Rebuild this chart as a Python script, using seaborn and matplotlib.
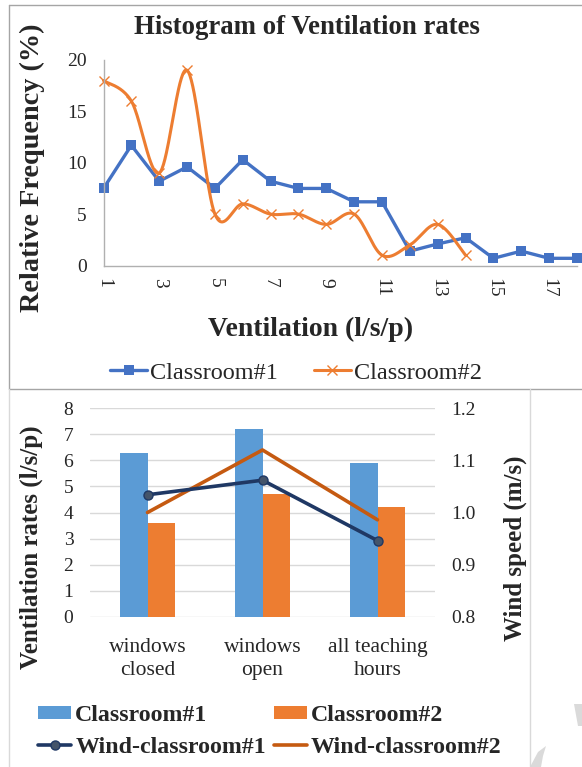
import numpy as np
import pandas as pd
import matplotlib
matplotlib.use("Agg")
import matplotlib.pyplot as plt
from matplotlib.lines import Line2D
from matplotlib.patches import Patch, Polygon
import seaborn as sns

# ---------------- data ----------------
vent_bins = list(range(1, 19))
room1_freq = [7.5, 11.7, 8.2, 9.6, 7.5, 10.3, 8.2, 7.5, 7.5, 6.2, 6.2,
              1.4, 2.1, 2.7, 0.7, 1.4, 0.7, 0.7]
room2_bins = list(range(1, 15))
room2_freq = [18, 16, 9, 19, 5, 6, 5, 5, 4, 5, 1, 2, 4, 1]
x_ticks = [1, 3, 5, 7, 9, 11, 13, 15, 17]
freq_ticks = [0, 5, 10, 15, 20]

conditions = ["windows\nclosed", "windows\nopen", "all teaching\nhours"]
vent_room1 = [6.3, 7.2, 5.9]
vent_room2 = [3.6, 4.7, 4.2]
wind_room1 = [1.034, 1.062, 0.946]
wind_room2 = [1.0, 1.12, 0.986]
rate_ticks = [0, 1, 2, 3, 4, 5, 6, 7, 8]
wind_ticks = [0.8, 0.9, 1.0, 1.1, 1.2]

# ---------------- style ----------------
sns.set_style("white")
plt.rcParams["font.family"] = ["Liberation Serif", "DejaVu Serif"]
plt.rcParams["axes.unicode_minus"] = False

W, H = 582, 767
fig = plt.figure(figsize=(W / 100, H / 100), dpi=100)


def fx(px):
    return px / W


def fy(py):
    return 1 - py / H


def smooth_curve(x, y, n=40):
    """Cubic Bezier smoothing through every point (spreadsheet style)."""
    x = np.asarray(x, float)
    y = np.asarray(y, float)
    px = np.r_[x[0], x, x[-1]]
    py = np.r_[y[0], y, y[-1]]
    t = np.linspace(0, 1, n)
    xs, ys = [], []
    for i in range(len(x) - 1):
        p0 = np.array([x[i], y[i]])
        p3 = np.array([x[i + 1], y[i + 1]])
        c1 = p0 + (np.array([px[i + 2], py[i + 2]]) - np.array([px[i], py[i]])) / 6
        c2 = p3 - (np.array([px[i + 3], py[i + 3]]) - np.array([px[i + 1], py[i + 1]])) / 6
        seg = ((1 - t) ** 3)[:, None] * p0 + (3 * (1 - t) ** 2 * t)[:, None] * c1 \
            + (3 * (1 - t) * t ** 2)[:, None] * c2 + (t ** 3)[:, None] * p3
        xs.append(seg[:, 0] if i == 0 else seg[1:, 0])
        ys.append(seg[:, 1] if i == 0 else seg[1:, 1])
    return np.concatenate(xs), np.concatenate(ys)


# ---------------- panel frames ----------------
frame_dark = "#A5A5A5"
frame_light = "#D9D9D9"
for (x0, y0, x1, y1, c) in [
    (9, 5, 582, 5, frame_dark),
    (9, 5, 9, 389, frame_dark),
    (9, 389, 582, 389, frame_dark),
    (8.5, 389, 8.5, 767, frame_light),
    (529.5, 389, 529.5, 767, frame_light),
]:
    fig.add_artist(Line2D([fx(x0), fx(x1)], [fy(y0), fy(y1)],
                          color=c, lw=1.0, transform=fig.transFigure))

# faint page marks at the lower right corner
for pts in [
    [(574, 704), (582, 704), (582, 726), (578, 726)],
    [(546, 746), (538, 752), (530, 767), (541, 767), (543, 756)],
]:
    fig.add_artist(Polygon([(fx(a), fy(b)) for a, b in pts], closed=True,
                           facecolor="#DADADA", edgecolor="none",
                           transform=fig.transFigure))

# ---------------- top: histogram lines ----------------
blue = "#4472C4"
orange = "#ED7D31"
ax1 = fig.add_axes([fx(103.5), fy(265.5), fx(577) - fx(103.5), fy(60) - fy(265.5)])
sns.lineplot(x=vent_bins, y=room1_freq, ax=ax1, color=blue, lw=2.4,
             marker="s", markersize=7.5, markeredgewidth=0, clip_on=False)
sx, sy = smooth_curve(room2_bins, room2_freq)
sns.lineplot(x=sx, y=sy, ax=ax1, color=orange, lw=2.2, sort=False, clip_on=False)
ax1.plot(room2_bins, room2_freq, ls="none", marker="x", markersize=7.5,
         markeredgewidth=1.0, color=orange, clip_on=False)

ax1.set_xlim(1, 18)
ax1.set_ylim(0, 20)
ax1.set_xticks(x_ticks)
ax1.set_xticklabels([str(v) for v in x_ticks], rotation=-90, fontsize=14)
ax1.set_yticks(freq_ticks)
ax1.set_yticklabels([str(v) for v in freq_ticks], fontsize=14)
ax1.tick_params(axis="x", length=5, width=1, color="#B0B0B0", pad=4)
ax1.tick_params(axis="y", length=5, width=1, color="#B0B0B0", pad=7)
for s in ["top", "right"]:
    ax1.spines[s].set_visible(False)
for s in ["left", "bottom"]:
    ax1.spines[s].set_color("#B0B0B0")
    ax1.spines[s].set_linewidth(1.0)
ax1.set_xlabel("")
ax1.set_ylabel("")

fig.text(fx(307), fy(27), "Histogram of Ventilation rates", ha="center",
         va="center", fontsize=19.3, fontweight="bold")
fig.text(fx(32), fy(168), "Relative Frequency (%)", ha="center", va="center",
         rotation=90, fontsize=20.3, fontweight="bold")
fig.text(fx(311), fy(329), "Ventilation (l/s/p)", ha="center", va="center",
         fontsize=20, fontweight="bold")

top_handles = [
    Line2D([], [], color=blue, lw=2.4, marker="s", markersize=7.5, markeredgewidth=0),
    Line2D([], [], color=orange, lw=2.2, marker="x", markersize=7.5, markeredgewidth=1.0),
]
fig.legend(top_handles, ["Classroom#1", "Classroom#2"], loc="center",
           bbox_to_anchor=(fx(296), fy(373)), ncol=2, frameon=False,
           fontsize=17.5, handlelength=1.5, handletextpad=0.12,
           columnspacing=1.5, borderpad=0, borderaxespad=0)

# ---------------- bottom: bars with wind speed ----------------
bar_blue = "#5B9BD5"
bar_orange = "#ED7D31"
navy = "#1F3864"
rust = "#C55A11"

df = pd.DataFrame({
    "condition": conditions * 2,
    "rate": vent_room1 + vent_room2,
    "room": ["Classroom#1"] * 3 + ["Classroom#2"] * 3,
})

ax2 = fig.add_axes([fx(90), fy(616.7), fx(435) - fx(90), fy(408.3) - fy(616.7)])
sns.barplot(data=df, x="condition", y="rate", hue="room", ax=ax2,
            palette=[bar_blue, bar_orange], width=0.48, gap=0, saturation=1,
            linewidth=0, legend=False, zorder=2)
ax2.set_ylim(0, 8)
ax2.set_xlim(-0.5, 2.5)
ax2.set_yticks(rate_ticks)
ax2.set_yticklabels([str(v) for v in rate_ticks], fontsize=14)
ax2.set_xticks(range(len(conditions)))
ax2.set_xticklabels(conditions, fontsize=15.5, linespacing=1.32)
ax2.yaxis.grid(True, color="#D9D9D9", lw=1.0, zorder=0)
ax2.set_axisbelow(True)
ax2.tick_params(axis="both", length=0)
ax2.tick_params(axis="y", pad=12)
ax2.tick_params(axis="x", pad=15)
for s in ax2.spines.values():
    s.set_visible(False)
ax2.set_xlabel("")
ax2.set_ylabel("")

ax3 = ax2.twinx()
sns.lineplot(x=[0, 1, 2], y=wind_room1, ax=ax3, color=navy, lw=2.6,
             marker="o", markersize=6.5, markerfacecolor="#44546A",
             markeredgecolor=navy, markeredgewidth=1.0, zorder=4)
sns.lineplot(x=[0, 1, 2], y=wind_room2, ax=ax3, color=rust, lw=2.6, zorder=3)
ax3.set_ylim(0.8, 1.2)
ax3.set_xlim(-0.5, 2.5)
ax3.set_yticks(wind_ticks)
ax3.set_yticklabels([f"{v:.1f}" for v in wind_ticks], fontsize=14)
ax3.tick_params(axis="y", length=0, pad=12)
for s in ax3.spines.values():
    s.set_visible(False)
ax3.set_ylabel("")

fig.text(fx(31), fy(547), "Ventilation rates (l/s/p)", ha="center", va="center",
         rotation=90, fontsize=18, fontweight="bold")
fig.text(fx(515), fy(548), "Wind speed (m/s)", ha="center", va="center",
         rotation=90, fontsize=18, fontweight="bold")

bottom_handles = [
    Patch(facecolor=bar_blue, edgecolor="none"),
    Line2D([], [], color=navy, lw=2.6, marker="o", markersize=6.5,
           markerfacecolor="#44546A", markeredgecolor=navy, markeredgewidth=1.0),
    Patch(facecolor=bar_orange, edgecolor="none"),
    Line2D([], [], color=rust, lw=2.6),
]
bottom_labels = ["Classroom#1", "Wind-classroom#1", "Classroom#2", "Wind-classroom#2"]
fig.legend(bottom_handles, bottom_labels, loc="center",
           bbox_to_anchor=(fx(270), fy(731.5)), ncol=2, frameon=False,
           prop={"size": 17.2, "weight": "bold"}, handlelength=1.38,
           handleheight=0.48, handletextpad=0.16, columnspacing=0.35,
           labelspacing=0.45, borderpad=0, borderaxespad=0)

fig.savefig("out.png", dpi=100)
